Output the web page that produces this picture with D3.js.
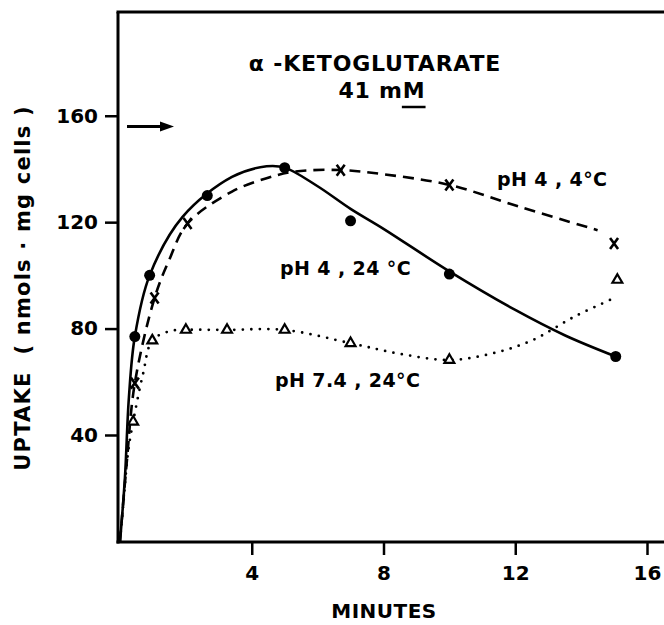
<!DOCTYPE html>
<html><head><meta charset="utf-8">
<script src="https://cdn.jsdelivr.net/npm/d3@7"></script>
<style>
body{margin:0;background:#fff}
svg{display:block}
text{font-family:"DejaVu Sans",sans-serif;font-weight:bold;fill:#000}
</style>
</head><body>
<svg id="c" width="664" height="625"></svg>
<script>
// ---- data ----
// pH 4, 24 °C (filled circles, solid line)
const solidTimes  = [0.45, 0.9, 2.65, 5.0, 7.0, 10.0, 15.05];
const solidValues = [77, 100, 130, 140.5, 120.5, 100.5, 69.5];
// pH 4, 4 °C (crosses, dashed line)
const dashedTimes  = [0.45, 1.05, 2.05, 6.7, 10.0, 15.0];
const dashedValues = [59.5, 91.5, 119.5, 139.5, 134, 112];
// pH 7.4, 24 °C (open triangles, dotted line)
const dottedTimes  = [0.4, 0.98, 2.0, 3.25, 5.0, 7.0, 10.0, 15.1];
const dottedValues = [45, 75.5, 79.5, 79.5, 79.5, 74.5, 68.2, 98.3];

// hand-drawn curves
const solidCurveT = [0, 0.15, 0.27, 0.45, 0.9, 1.9, 3.4, 4.45, 5.0, 6.0, 7.0, 8.0, 10.0, 12.0, 13.5, 15.05];
const solidCurveV = [0, 24, 54, 77, 100, 122, 137, 141, 140.5, 133.5, 125, 117.5, 101.5, 87, 77.5, 69.5];
const dashedCurveT = [0, 0.2, 0.45, 1.05, 1.5, 2.05, 3.4, 4.45, 5.3, 6.7, 8.0, 10.0, 12.2, 14.5];
const dashedCurveV = [0, 29, 59.5, 91.5, 106, 119.5, 131.5, 136.5, 139, 139.6, 138, 134, 125.5, 117];
const dottedCurveT = [0, 0.1, 0.25, 0.4, 0.7, 0.98, 1.5, 2.0, 3.25, 5.0, 7.0, 8.5, 10.0, 11.25, 12.5, 13.8, 15.1];
const dottedCurveV = [0, 14, 34, 45, 63, 75.5, 79, 79.5, 79.5, 79.5, 74.5, 70.5, 68.2, 70.5, 75.5, 84.5, 92];

const xTicks = [4, 8, 12, 16];
const yTicks = [40, 80, 120, 160];
const seriesLabels = ["pH 4 , 4°C", "pH 4 , 24 °C", "pH 7.4 , 24°C"];
const titleLines = ["α -KETOGLUTARATE", "41 m"];
const arrowLevel = 156;

// ---- drawing ----
const svg = d3.select("#c");
const x = d3.scaleLinear().domain([0, 16]).range([120, 647]);
const y = d3.scaleLinear().domain([0, 199]).range([541.4, 12]);

// frame
const axisX0 = 118, axisY0 = 542;
svg.append("line").attr("x1", axisX0).attr("x2", axisX0).attr("y1", y(199)).attr("y2", axisY0 + 1.5)
  .attr("stroke", "#000").attr("stroke-width", 3);
svg.append("line").attr("x1", axisX0 - 1.5).attr("x2", 664).attr("y1", axisY0).attr("y2", axisY0)
  .attr("stroke", "#000").attr("stroke-width", 3);
svg.append("line").attr("x1", axisX0 - 1.5).attr("x2", 664).attr("y1", y(199)).attr("y2", y(199))
  .attr("stroke", "#000").attr("stroke-width", 3);

// axes via d3
const gx = svg.append("g").attr("transform", `translate(0,${axisY0})`)
  .call(d3.axisBottom(x).tickValues(xTicks).tickSize(13).tickPadding(11));
const gy = svg.append("g").attr("transform", `translate(${axisX0},0)`)
  .call(d3.axisLeft(y).tickValues(yTicks).tickSize(13).tickPadding(7));
[gx, gy].forEach(g => {
  g.select(".domain").remove();
  g.selectAll(".tick line").attr("stroke", "#000").attr("stroke-width", 2.5);
  g.selectAll(".tick text").attr("font-size", 20).attr("font-family", '"DejaVu Sans",sans-serif')
   .attr("font-weight", "bold").attr("fill", "#000");
});

// axis titles
svg.append("text").attr("x", 384).attr("y", 618).attr("text-anchor", "middle")
  .attr("font-size", 20).attr("letter-spacing", 0.5).text("MINUTES");
svg.append("text").attr("transform", "translate(30,288) rotate(-90)").attr("text-anchor", "middle")
  .attr("font-size", 21).attr("letter-spacing", 1.2).attr("xml:space", "preserve")
  .text("UPTAKE  ( nmols · mg cells )");

// curves
const line = d3.line().x(d => x(d[0])).y(d => y(d[1])).curve(d3.curveCatmullRom.alpha(0.5));
svg.append("path").datum(d3.zip(solidCurveT, solidCurveV)).attr("d", line)
  .attr("fill", "none").attr("stroke", "#000").attr("stroke-width", 2.6);
svg.append("path").datum(d3.zip(dashedCurveT, dashedCurveV)).attr("d", line)
  .attr("fill", "none").attr("stroke", "#000").attr("stroke-width", 2.6).attr("stroke-dasharray", "11,7");
svg.append("path").datum(d3.zip(dottedCurveT, dottedCurveV)).attr("d", line)
  .attr("fill", "none").attr("stroke", "#000").attr("stroke-width", 2.8)
  .attr("stroke-linecap", "round").attr("stroke-dasharray", "0,8.5");

// markers
svg.append("g").selectAll("circle").data(d3.zip(solidTimes, solidValues)).join("circle")
  .attr("cx", d => x(d[0])).attr("cy", d => y(d[1])).attr("r", 5.5).attr("fill", "#000");
svg.append("g").selectAll("path").data(d3.zip(dashedTimes, dashedValues)).join("path")
  .attr("transform", d => `translate(${x(d[0])},${y(d[1])})`)
  .attr("d", "M-4,-5.5L4,5.5M4,-5.5L-4,5.5")
  .attr("stroke", "#000").attr("stroke-width", 2.6).attr("fill", "none");
svg.append("g").selectAll("path").data(d3.zip(dottedTimes, dottedValues)).join("path")
  .attr("transform", d => `translate(${x(d[0])},${y(d[1])})`)
  .attr("d", d3.symbol(d3.symbolTriangle, 42)())
  .attr("stroke", "#000").attr("stroke-width", 2.2).attr("fill", "#fff");

// series labels
const lab = (i, lx, ly) => svg.append("text").attr("x", lx).attr("y", ly).attr("font-size", 19)
  .attr("letter-spacing", 0.4).attr("xml:space", "preserve").text(seriesLabels[i]);
lab(0, 497, 186);
lab(1, 280, 275);
lab(2, 275, 387);

// title
svg.append("text").attr("x", 375).attr("y", 71).attr("text-anchor", "middle").attr("font-size", 22)
  .attr("letter-spacing", 0.8).attr("xml:space", "preserve").text(titleLines[0]);
const t2 = svg.append("text").attr("x", 382).attr("y", 98).attr("text-anchor", "middle")
  .attr("font-size", 22).attr("letter-spacing", 0.8).attr("xml:space", "preserve");
t2.append("tspan").text(titleLines[1]);
const mSpan = t2.append("tspan").text("M");
const mLen = mSpan.node().getComputedTextLength();
const tb = t2.node().getBBox();
svg.append("line").attr("x1", tb.x + tb.width - mLen - 1).attr("x2", tb.x + tb.width)
  .attr("y1", 107).attr("y2", 107).attr("stroke", "#000").attr("stroke-width", 2.5);

// arrow
const ay = y(arrowLevel);
svg.append("line").attr("x1", 127).attr("x2", 163).attr("y1", ay).attr("y2", ay)
  .attr("stroke", "#000").attr("stroke-width", 3);
svg.append("path").attr("d", `M160,${ay - 5}L174,${ay}L160,${ay + 5}Z`).attr("fill", "#000");
</script>
</body></html>
